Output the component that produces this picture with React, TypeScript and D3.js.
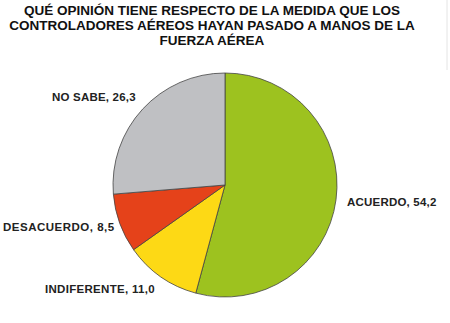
import React from "react";
import * as d3 from "d3";

const titleLines = [
  "QUÉ OPINIÓN TIENE RESPECTO  DE LA MEDIDA QUE LOS",
  "CONTROLADORES AÉREOS HAYAN PASADO A MANOS DE LA",
  "FUERZA AÉREA",
];
const categories = ["ACUERDO", "INDIFERENTE", "DESACUERDO", "NO SABE"];
const values = [54.2, 11.0, 8.5, 26.3];
const valueLabels = ["54,2", "11,0", "8,5", "26,3"];
const colors = ["#9dc21f", "#fdd915", "#e5421a", "#bfc0c3"];

export default function App() {
  const W = 450, H = 323;
  const cx = 225, cy = 185, r = 112;
  const pie = d3.pie<number>().sort(null).value((d) => d)(values);
  const arc = d3.arc<d3.PieArcDatum<number>>().innerRadius(0).outerRadius(r);
  const labelPos: [number, number, number][] = [
    [347, 202, 0.2],
    [45, 289, 0.3],
    [3, 227, 0.5],
    [52, 97, 0.2],
  ];
  return (
    <svg
      width={W}
      height={H}
      style={{ position: "absolute", left: 0, top: 0, background: "#fff" }}
      fontFamily="'Liberation Sans', Arial, sans-serif"
    >
      <line x1={447} y1={0} x2={447} y2={70} stroke="#e4e4e4" strokeWidth={1} />
      {titleLines.map((t, i) => (
        <text
          key={i}
          x={212}
          y={15 + i * 15}
          textAnchor="middle"
          fontSize={13.5}
          fontWeight="bold"
          fill="#111"
        >
          {t}
        </text>
      ))}
      <g transform={`translate(${cx},${cy})`}>
        {pie.map((d, i) => (
          <path key={i} d={arc(d) || ""} fill={colors[i]} stroke="#444" strokeWidth={0.8} />
        ))}
      </g>
      {categories.map((c, i) => (
        <text
          key={c}
          x={labelPos[i][0]}
          y={labelPos[i][1]}
          dy="0.35em"
          fontSize={11.5}
          letterSpacing={labelPos[i][2]}
          fontWeight="bold"
          fill="#222"
        >
          {`${c}, ${valueLabels[i]}`}
        </text>
      ))}
    </svg>
  );
}
